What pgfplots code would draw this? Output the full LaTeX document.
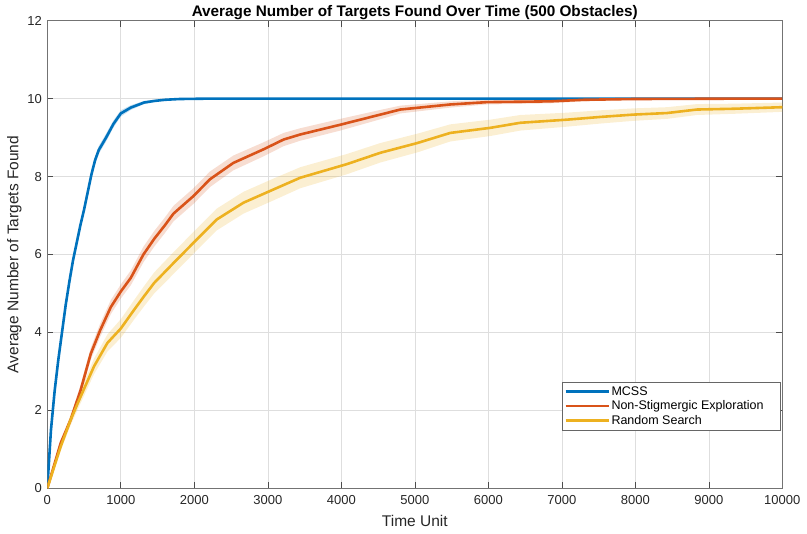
\documentclass[border=0pt]{standalone}
\usepackage{fontspec}
\setmainfont{Liberation Sans}
\usepackage{pgfplots}
\usepackage{pgfplotstable}
\pgfplotsset{compat=1.18}
\usepgfplotslibrary{fillbetween}
\definecolor{mblue}{HTML}{0072BD}
\definecolor{morange}{HTML}{D95319}
\definecolor{myellow}{HTML}{EDB120}
\definecolor{axgray}{HTML}{262626}

% x = time unit, y = mean targets found, e = half width of shaded band
\pgfplotstableread{
x y e
0 0 0
50 1.50 0.06
100 2.50 0.08
150 3.30 0.09
200 4.00 0.10
250 4.70 0.10
300 5.30 0.10
350 5.85 0.10
400 6.30 0.10
450 6.75 0.10
500 7.15 0.10
550 7.60 0.10
600 8.05 0.10
650 8.42 0.10
700 8.68 0.10
800 9.00 0.10
900 9.35 0.09
1000 9.62 0.08
1136 9.77 0.06
1317 9.90 0.04
1454 9.94 0.03
1600 9.97 0.02
1800 9.99 0.01
2200 10 0
10000 10 0
}\mcss

\pgfplotstableread{
x y e
0 0 0
182 1.16 0.08
318 1.76 0.10
455 2.53 0.13
591 3.45 0.15
718 4.05 0.17
864 4.65 0.18
1000 5.05 0.18
1136 5.40 0.19
1308 6.00 0.20
1454 6.40 0.20
1600 6.75 0.20
1717 7.05 0.20
1989 7.50 0.20
2213 7.93 0.20
2531 8.35 0.19
2943 8.70 0.18
3215 8.95 0.17
3442 9.08 0.16
3986 9.33 0.15
4531 9.59 0.12
4803 9.72 0.10
5483 9.85 0.08
5982 9.91 0.06
6844 9.93 0.05
7297 9.97 0.04
7973 9.99 0.02
9500 10 0.01
10000 10 0
}\nonstig

\pgfplotstableread{
x y e
0 0 0
182 1.07 0.10
318 1.76 0.14
455 2.36 0.17
636 3.13 0.20
818 3.73 0.22
1000 4.10 0.24
1181 4.58 0.25
1317 4.93 0.26
1454 5.27 0.27
1717 5.78 0.28
1989 6.30 0.28
2307 6.90 0.28
2670 7.33 0.28
3079 7.67 0.28
3442 7.97 0.27
4078 8.32 0.26
4531 8.61 0.25
5034 8.86 0.24
5483 9.12 0.22
6027 9.25 0.21
6435 9.38 0.20
7070 9.46 0.18
7524 9.53 0.17
7977 9.59 0.16
8431 9.63 0.15
8839 9.72 0.14
9338 9.74 0.13
10000 9.78 0.12
}\randsearch

\begin{document}
\begin{tikzpicture}
\begin{axis}[
    at={(0pt,0pt)}, anchor=south west,
    scale only axis, width=735pt, height=467.6pt,
    xmin=0, xmax=10000, ymin=0, ymax=12,
    xtick={0,1000,...,10000}, ytick={0,2,...,12},
    scaled x ticks=false,
    /pgf/number format/1000 sep={},
    /pgf/number format/assume math mode=true,
    tick label style={font=\fontsize{13}{15}\selectfont, text=axgray},
    xticklabel style={yshift=-4pt},
    yticklabel style={xshift=-2pt},
    xmajorgrids, ymajorgrids,
    major grid style={line width=0.6pt, black!13},
    axis line style={line width=0.8pt, black!55},
    tick style={line width=0.6pt, black!70},
    tick align=inside, major tick length=6pt,
    xtick pos=both, ytick pos=both,
    every axis title shift=0pt,
    title={Average Number of Targets Found Over Time (500 Obstacles)},
    title style={font=\bfseries\fontsize{15.3}{18}\selectfont, text=black,
        at={(axis description cs:0.5,1.0096)}, anchor=base},
    xlabel={Time Unit},
    xlabel style={font=\fontsize{15.5}{18}\selectfont, text=axgray,
        at={(axis description cs:0.5,-0.0827)}, anchor=base},
    ylabel={Average Number of Targets Found},
    ylabel style={font=\fontsize{15.5}{18}\selectfont, text=axgray,
        at={(axis description cs:-0.0395,0.5)}, anchor=base},
    legend style={at={(axis description cs:0.9973,0.1237)}, anchor=south east,
        font=\fontsize{12.5}{14}\selectfont, draw=black!60, line width=0.6pt,
        inner xsep=2pt, inner ysep=2.5pt, row sep=0pt,
        nodes={inner xsep=1.5pt}},
    legend cell align=left,
    legend image code/.code={\draw[#1] (0pt,0pt) -- (43pt,0pt);},
]
% MCSS
\addplot[draw=none, forget plot, name path=bu] table[x=x, y expr=\thisrow{y}+\thisrow{e}] {\mcss};
\addplot[draw=none, forget plot, name path=bl] table[x=x, y expr=\thisrow{y}-\thisrow{e}] {\mcss};
\addplot[fill=mblue, fill opacity=0.22, draw=none, forget plot] fill between[of=bu and bl];
\addplot[mblue, line width=2.6pt, line join=round] table[x=x, y=y] {\mcss};
\addlegendentry{\makebox[165pt][l]{MCSS}}
% Non-Stigmergic Exploration
\addplot[draw=none, forget plot, name path=ou] table[x=x, y expr=\thisrow{y}+\thisrow{e}] {\nonstig};
\addplot[draw=none, forget plot, name path=ol] table[x=x, y expr=\thisrow{y}-\thisrow{e}] {\nonstig};
\addplot[fill=morange, fill opacity=0.2, draw=none, forget plot] fill between[of=ou and ol];
\addplot[morange, line width=2.6pt, line join=round] table[x=x, y=y] {\nonstig};
\addlegendentry{\makebox[165pt][l]{Non-Stigmergic Exploration}}
% Random Search
\addplot[draw=none, forget plot, name path=yu] table[x=x, y expr=\thisrow{y}+\thisrow{e}] {\randsearch};
\addplot[draw=none, forget plot, name path=yl] table[x=x, y expr=\thisrow{y}-\thisrow{e}] {\randsearch};
\addplot[fill=myellow, fill opacity=0.2, draw=none, forget plot] fill between[of=yu and yl];
\addplot[myellow, line width=2.6pt, line join=round] table[x=x, y=y] {\randsearch};
\addlegendentry{\makebox[165pt][l]{Random Search}}
\end{axis}
\pgfresetboundingbox
\path[use as bounding box] (-47.3pt,-45.7pt) rectangle (759.7pt,488.3pt);
\end{tikzpicture}
\end{document}
